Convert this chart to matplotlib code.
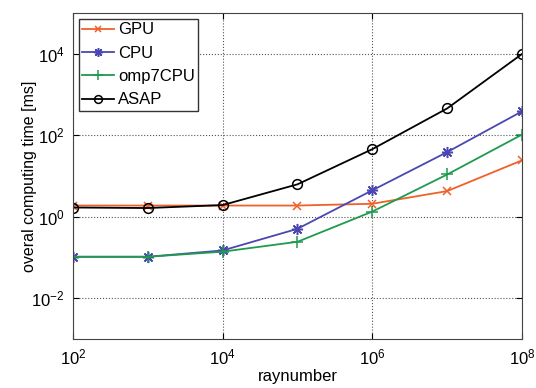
import numpy as np
import matplotlib
matplotlib.use("Agg")
from matplotlib import pyplot as plt
from matplotlib.ticker import NullLocator

plt.rcParams['font.family'] = ['Liberation Sans', 'DejaVu Sans']
plt.rcParams['mathtext.default'] = 'regular'

# number of rays per run and measured computing times [ms]
raynumber = [1e2, 1e3, 1e4, 1e5, 1e6, 1e7, 1e8]
gpu_ms = [1.9, 1.9, 1.9, 1.9, 2.1, 4.3, 24.5]
cpu_ms = [0.105, 0.105, 0.15, 0.51, 4.5, 39, 390]
omp7cpu_ms = [0.105, 0.105, 0.14, 0.245, 1.35, 11, 105]
asap_ms = [1.7, 1.65, 1.95, 6.3, 46, 460, 10000]

xticks = [1e2, 1e4, 1e6, 1e8]
yticks = [1e-2, 1e0, 1e2, 1e4]

# asterisk like matlab's '*'
asterisk = (8, 2, 0)

series = [
    ("GPU", gpu_ms, "#f0602a", "x", 6),
    ("CPU", cpu_ms, "#4a48b0", asterisk, 8),
    ("omp7CPU", omp7cpu_ms, "#1f9a4e", "+", 9),
    ("ASAP", asap_ms, "black", "o", 7),
]

fig = plt.figure(figsize=(5.36, 3.88), dpi=100)
ax = fig.add_axes([0.136, 0.126, 0.838, 0.840])

for name, vals, color, marker, ms in series:
    ax.plot(raynumber, vals, color=color, marker=marker, markersize=ms,
            markerfacecolor='none', markeredgewidth=1.1, linewidth=1.3,
            label=name)

ax.set_xscale('log')
ax.set_yscale('log')
ax.set_xlim(1e2, 1e8)
ax.set_ylim(1e-3, 1e5)
ax.set_xticks(xticks)
ax.set_yticks(yticks)
ax.xaxis.set_minor_locator(NullLocator())
ax.yaxis.set_minor_locator(NullLocator())
ax.tick_params(direction='in', labelsize=12, length=4, top=True, right=True,
               pad=6)
ax.grid(True, linestyle=':', color='#555555', linewidth=0.8)
for s in ax.spines.values():
    s.set_color('#444444')

ax.set_xlabel("raynumber", fontsize=12, labelpad=1)
ax.set_ylabel("overal computing time [ms]", fontsize=11.5, labelpad=-4)

leg = ax.legend(loc='upper left', fontsize=12, fancybox=False,
                handlelength=1.9, borderaxespad=0.35, labelspacing=0.5,
                handletextpad=0.25, framealpha=1, borderpad=0.2,
                markerscale=0.8)
leg.get_frame().set_edgecolor('#333333')

fig.savefig("out.png", dpi=100)
